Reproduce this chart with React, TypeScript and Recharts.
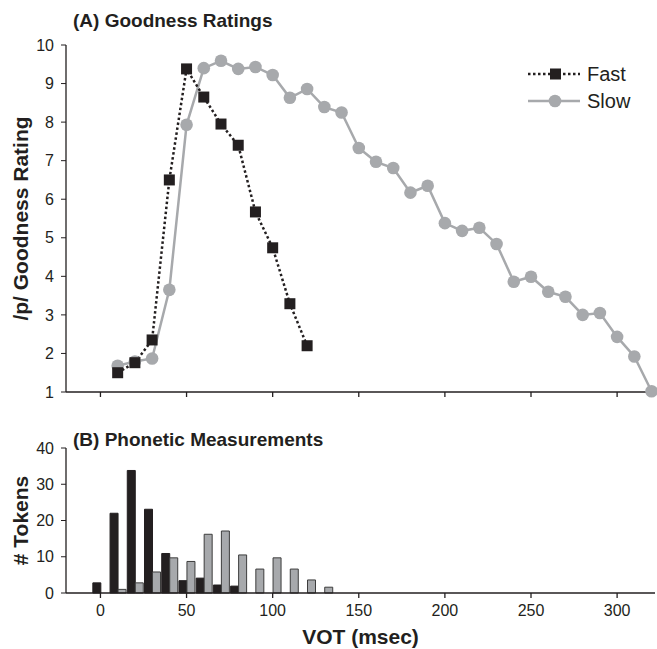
import React from "react";
import { ComposedChart, Line, Bar, XAxis, YAxis, Legend } from "recharts";

// (A) goodness ratings
const votRating = [
  10, 20, 30, 40, 50, 60, 70, 80, 90, 100, 110, 120, 130, 140, 150, 160, 170,
  180, 190, 200, 210, 220, 230, 240, 250, 260, 270, 280, 290, 300, 310, 320,
];
const fastRating = [1.5, 1.76, 2.35, 6.5, 9.38, 8.65, 7.95, 7.4, 5.67, 4.74, 3.29, 2.2];
const slowRating = [
  1.68, 1.79, 1.87, 3.65, 7.93, 9.4, 9.59, 9.38, 9.43, 9.22, 8.63, 8.86, 8.39,
  8.25, 7.33, 6.97, 6.81, 6.17, 6.35, 5.38, 5.18, 5.26, 4.84, 3.86, 3.99, 3.6,
  3.47, 3.0, 3.05, 2.43, 1.92, 1.02,
];
const ratingTicks = [1, 2, 3, 4, 5, 6, 7, 8, 9, 10];

// (B) phonetic measurements (token counts per 10 ms bin)
const votBins = [-20, -10, 0, 10, 20, 30, 40, 50, 60, 70, 80, 90, 100, 110, 120, 130, 140];
const fastTokens = [0, 0, 2.8, 22, 33.8, 23.1, 10.9, 3.4, 4.1, 2.2, 1.9, 0, 0, 0, 0, 0, 0];
const slowTokens = [0, 0, 0, 1, 2.8, 5.8, 9.7, 8.7, 16.2, 17.1, 10.5, 6.6, 9.7, 6.6, 3.6, 1.6, 0];
const tokenTicks = [0, 10, 20, 30, 40];

const votTicks = [0, 50, 100, 150, 200, 250, 300];
const votDomain = [-20, 322];

const ratingData = votRating.map((vot, i) => ({
  vot,
  fast: fastRating[i],
  slow: slowRating[i],
}));
const tokenData = votBins.map((vot, i) => ({
  vot,
  fast: fastTokens[i],
  slow: slowTokens[i],
}));

const INK = "#231f20";
const GREY = "#a7a9ac";
const FONT = "'Liberation Sans', Arial, Helvetica, sans-serif";
const DOTTED = "2.5 2.5";

const SquareDot = (props: any) => {
  const { cx, cy } = props;
  if (!Number.isFinite(cx) || !Number.isFinite(cy)) return null;
  return <rect x={cx - 5.5} y={cy - 5.5} width={11} height={11} fill={INK} />;
};

const yTitle = (text: string) => (props: any) => {
  const vb = props.viewBox || {};
  const x = (vb.x ?? 0) + 20;
  const y = (vb.y ?? 0) + (vb.height ?? 0) / 2;
  return (
    <text
      x={x}
      y={y}
      transform={`rotate(-90 ${x} ${y})`}
      textAnchor="middle"
      dominantBaseline="central"
      fontFamily={FONT}
      fontSize={21}
      fontWeight="bold"
      fill={INK}
    >
      {text}
    </text>
  );
};

const xTitle = (props: any) => {
  const vb = props.viewBox || {};
  return (
    <text
      x={(vb.x ?? 0) + (vb.width ?? 0) / 2}
      y={(vb.y ?? 0) + (vb.height ?? 0) - 5}
      textAnchor="middle"
      fontFamily={FONT}
      fontSize={21}
      fontWeight="bold"
      fill={INK}
    >
      VOT (msec)
    </text>
  );
};

const renderLegend = () => (
  <div style={{ fontFamily: FONT, color: INK, fontSize: 20 }}>
    <div style={{ display: "flex", alignItems: "center", height: 27 }}>
      <svg width={52} height={14}>
        <line x1={0} y1={7} x2={52} y2={7} stroke={INK} strokeWidth={2.5} strokeDasharray={DOTTED} />
        <rect x={22} y={1.5} width={11} height={11} fill={INK} />
      </svg>
      <span style={{ marginLeft: 7 }}>Fast</span>
    </div>
    <div style={{ display: "flex", alignItems: "center", height: 27 }}>
      <svg width={52} height={14}>
        <line x1={0} y1={7} x2={52} y2={7} stroke={GREY} strokeWidth={2.5} />
        <circle cx={27} cy={7} r={6.3} fill={GREY} />
      </svg>
      <span style={{ marginLeft: 7 }}>Slow</span>
    </div>
  </div>
);

const tickStyle = { fontSize: 16, fill: INK, fontFamily: FONT };

export default function App() {
  return (
    <div style={{ position: "absolute", left: 0, top: 0, width: 657, height: 649, background: "#fff", fontFamily: FONT }}>
      <div style={{ position: "absolute", left: 73, top: 10.5, fontSize: 19, lineHeight: "19px", fontWeight: "bold", color: INK }}>
        (A) Goodness Ratings
      </div>
      <div style={{ position: "absolute", left: 73, top: 429.5, fontSize: 19, lineHeight: "19px", fontWeight: "bold", color: INK }}>
        (B) Phonetic Measurements
      </div>

      <div style={{ position: "absolute", left: 0, top: 0 }}>
        <ComposedChart width={657} height={400} data={ratingData} margin={{ top: 45, right: 2, left: 0, bottom: 0 }}>
          <XAxis
            dataKey="vot"
            type="number"
            domain={votDomain}
            ticks={votTicks}
            interval={0}
            tickFormatter={() => ""}
            tickSize={5}
            height={8}
            axisLine={{ stroke: INK, strokeWidth: 1.3 }}
            tickLine={{ stroke: INK, strokeWidth: 1.3 }}
          />
          <YAxis
            type="number"
            domain={[1, 10]}
            ticks={ratingTicks}
            interval={0}
            width={66}
            tickSize={5}
            tickMargin={7}
            tick={tickStyle}
            axisLine={{ stroke: INK, strokeWidth: 1.3 }}
            tickLine={{ stroke: INK, strokeWidth: 1 }}
            label={{ content: yTitle("/p/ Goodness Rating") }}
          />
          <Legend
            content={renderLegend}
            layout="vertical"
            align="center"
            verticalAlign="middle"
            wrapperStyle={{ left: 528, top: 60.5, width: 125 }}
          />
          <Line
            dataKey="slow"
            name="Slow"
            stroke={GREY}
            strokeWidth={2.5}
            dot={{ r: 6.3, fill: GREY, stroke: "none" }}
            isAnimationActive={false}
          />
          <Line
            dataKey="fast"
            name="Fast"
            stroke={INK}
            strokeWidth={2.5}
            strokeDasharray={DOTTED}
            dot={<SquareDot />}
            isAnimationActive={false}
          />
        </ComposedChart>
      </div>

      <div style={{ position: "absolute", left: 0, top: 400 }}>
        <ComposedChart width={657} height={249} data={tokenData} barGap={0} margin={{ top: 48, right: 2, left: 0, bottom: 0 }}>
          <XAxis
            dataKey="vot"
            type="number"
            domain={votDomain}
            ticks={votTicks}
            interval={0}
            tickSize={5}
            tickMargin={7}
            height={56}
            tick={tickStyle}
            axisLine={{ stroke: INK, strokeWidth: 1.3 }}
            tickLine={{ stroke: INK, strokeWidth: 1.3 }}
            label={{ content: xTitle }}
          />
          <YAxis
            type="number"
            domain={[0, 40]}
            ticks={tokenTicks}
            interval={0}
            width={66}
            tickSize={5}
            tickMargin={7}
            tick={tickStyle}
            axisLine={{ stroke: INK, strokeWidth: 1.3 }}
            tickLine={{ stroke: INK, strokeWidth: 1 }}
            label={{ content: yTitle("# Tokens") }}
          />
          <Bar dataKey="fast" name="Fast" barSize={8} fill={INK} stroke={INK} strokeWidth={1} isAnimationActive={false} />
          <Bar dataKey="slow" name="Slow" barSize={8} fill={GREY} stroke="#3d3d3d" strokeWidth={1} isAnimationActive={false} />
        </ComposedChart>
      </div>
    </div>
  );
}
